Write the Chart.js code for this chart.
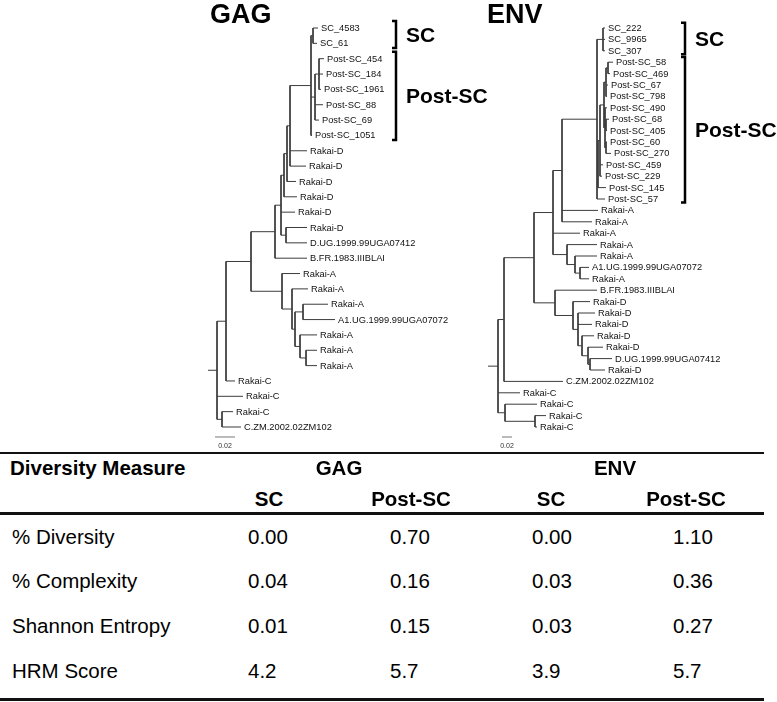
<!DOCTYPE html>
<html>
<head>
<meta charset="utf-8">
<script src="https://cdn.jsdelivr.net/npm/chart.js@4.4.1/dist/chart.umd.min.js"></script>
<style>
body{margin:0;background:#fff;width:777px;height:702px;position:relative;overflow:hidden;font-family:'Liberation Sans',Arial,sans-serif;color:#000}
.tree{position:absolute;top:0;height:460px}
#gagBox{left:195px;width:305px}
#envBox{left:470px;width:307px}
.rule{position:absolute;left:0;width:764px;background:#111}
.cell{position:absolute;font-size:20.5px;line-height:20.5px;white-space:nowrap}
.bold{font-weight:bold}
.mid{transform:translateX(-50%)}
</style>
</head>
<body>
<div class="tree" id="gagBox"><canvas id="gagChart"></canvas></div>
<div class="tree" id="envBox"><canvas id="envChart"></canvas></div>
<div class="rule" style="top:452px;height:2px"></div>
<div class="rule" style="top:512px;height:2.5px"></div>
<div class="rule" style="top:698px;height:2.5px"></div>
<div id="table"></div>
<script>
const FONT = "'Liberation Sans', Arial, sans-serif";

// tree rows: [id, parent, depth from root (subst./site), tip label]
const gagTree = [
    ['root', null, 0.000, ''],
    ['n0', 'root', 0.009, ''],
    ['n1', 'n0', 0.018, ''],
    ['n2', 'n1', 0.043, ''],
    ['n3', 'n2', 0.067, ''],
    ['nd', 'n3', 0.073, ''],
    ['nd2', 'nd', 0.076, ''],
    ['nd3', 'nd2', 0.079, ''],
    ['nd4', 'nd3', 0.082, ''],
    ['nsc', 'nd4', 0.103, ''],
    ['ns', 'nsc', 0.105, ''],
    ['g1', 'ns', 0.110, 'SC_4583'],
    ['g2', 'ns', 0.109, 'SC_61'],
    ['np', 'nsc', 0.107, ''],
    ['np2', 'np', 0.111, ''],
    ['g3', 'np2', 0.116, 'Post-SC_454'],
    ['g4', 'np2', 0.115, 'Post-SC_184'],
    ['g5', 'np2', 0.113, 'Post-SC_1961'],
    ['g6', 'np', 0.115, 'Post-SC_88'],
    ['g7', 'np', 0.111, 'Post-SC_69'],
    ['g8', 'nsc', 0.104, 'Post-SC_1051'],
    ['g9', 'nd4', 0.099, 'Rakai-D'],
    ['g10', 'nd4', 0.098, 'Rakai-D'],
    ['g11', 'nd3', 0.088, 'Rakai-D'],
    ['g12', 'nd2', 0.089, 'Rakai-D'],
    ['g13', 'nd', 0.087, 'Rakai-D'],
    ['ndu', 'nd', 0.078, ''],
    ['g14', 'ndu', 0.099, 'Rakai-D'],
    ['g15', 'ndu', 0.099, 'D.UG.1999.99UGA07412'],
    ['g16', 'n3', 0.099, 'B.FR.1983.IIIBLAI'],
    ['na', 'n2', 0.074, ''],
    ['g17', 'na', 0.092, 'Rakai-A'],
    ['na2', 'na', 0.084, ''],
    ['g18', 'na2', 0.100, 'Rakai-A'],
    ['na3', 'na2', 0.087, ''],
    ['na4', 'na3', 0.095, ''],
    ['g19', 'na4', 0.120, 'Rakai-A'],
    ['g20', 'na4', 0.127, 'A1.UG.1999.99UGA07072'],
    ['na5', 'na3', 0.092, ''],
    ['g21', 'na5', 0.109, 'Rakai-A'],
    ['na6', 'na5', 0.098, ''],
    ['g22', 'na6', 0.109, 'Rakai-A'],
    ['g23', 'na6', 0.109, 'Rakai-A'],
    ['g24', 'n1', 0.027, 'Rakai-C'],
    ['g25', 'n0', 0.035, 'Rakai-C'],
    ['nc', 'n0', 0.014, ''],
    ['g26', 'nc', 0.025, 'Rakai-C'],
    ['g27', 'nc', 0.033, 'C.ZM.2002.02ZM102']
];

const envTree = [
    ['root', null, 0.000, ''],
    ['r', 'root', 0.020, ''],
    ['nm', 'r', 0.032, ''],
    ['nad', 'nm', 0.092, ''],
    ['natop', 'nad', 0.130, ''],
    ['nbig', 'natop', 0.148, ''],
    ['nscc', 'nbig', 0.218, ''],
    ['ns', 'nscc', 0.230, ''],
    ['e1', 'ns', 0.234, 'SC_222'],
    ['e2', 'ns', 0.234, 'SC_9965'],
    ['e3', 'ns', 0.234, 'SC_307'],
    ['np1', 'nscc', 0.220, ''],
    ['np2', 'np1', 0.224, ''],
    ['np3', 'np2', 0.232, ''],
    ['np4', 'np3', 0.236, ''],
    ['np4a', 'np4', 0.240, ''],
    ['e4', 'np4a', 0.250, 'Post-SC_58'],
    ['e5', 'np4a', 0.244, 'Post-SC_469'],
    ['e6', 'np4', 0.240, 'Post-SC_67'],
    ['e7', 'np4', 0.238, 'Post-SC_798'],
    ['np5', 'np3', 0.234, ''],
    ['e8', 'np5', 0.238, 'Post-SC_490'],
    ['np5a', 'np5', 0.236, ''],
    ['e9', 'np5a', 0.242, 'Post-SC_68'],
    ['e10', 'np5a', 0.238, 'Post-SC_405'],
    ['np5b', 'np5', 0.236, ''],
    ['e11', 'np5b', 0.238, 'Post-SC_60'],
    ['e12', 'np5b', 0.246, 'Post-SC_270'],
    ['e13', 'np2', 0.230, 'Post-SC_459'],
    ['e14', 'np2', 0.228, 'Post-SC_229'],
    ['e15', 'np1', 0.236, 'Post-SC_145'],
    ['e16', 'nscc', 0.234, 'Post-SC_57'],
    ['e17', 'nbig', 0.220, 'Rakai-A'],
    ['e18', 'nbig', 0.208, 'Rakai-A'],
    ['e19', 'natop', 0.184, 'Rakai-A'],
    ['nasub', 'natop', 0.158, ''],
    ['e20', 'nasub', 0.218, 'Rakai-A'],
    ['nas2', 'nasub', 0.174, ''],
    ['e21', 'nas2', 0.218, 'Rakai-A'],
    ['nas3', 'nas2', 0.184, ''],
    ['e22', 'nas3', 0.202, 'A1.UG.1999.99UGA07072'],
    ['e23', 'nas3', 0.202, 'Rakai-A'],
    ['nd0', 'nad', 0.134, ''],
    ['e24', 'nd0', 0.218, 'B.FR.1983.IIIBLAI'],
    ['nd1', 'nd0', 0.170, ''],
    ['e25', 'nd1', 0.204, 'Rakai-D'],
    ['nd2', 'nd1', 0.180, ''],
    ['e26', 'nd2', 0.214, 'Rakai-D'],
    ['e27', 'nd2', 0.208, 'Rakai-D'],
    ['nd3', 'nd2', 0.188, ''],
    ['e28', 'nd3', 0.212, 'Rakai-D'],
    ['nd4', 'nd3', 0.200, ''],
    ['e29', 'nd4', 0.230, 'Rakai-D'],
    ['nd5', 'nd4', 0.204, ''],
    ['e30', 'nd5', 0.248, 'D.UG.1999.99UGA07412'],
    ['e31', 'nd5', 0.234, 'Rakai-D'],
    ['e32', 'nm', 0.150, 'C.ZM.2002.02ZM102'],
    ['e33', 'r', 0.064, 'Rakai-C'],
    ['nc', 'r', 0.034, ''],
    ['e34', 'nc', 0.098, 'Rakai-C'],
    ['nc2', 'nc', 0.094, ''],
    ['e35', 'nc2', 0.116, 'Rakai-C'],
    ['e36', 'nc2', 0.098, 'Rakai-C']
];

// brackets: [name, first leaf, last leaf]
const gagGroups = [['SC', 0, 1], ['Post-SC', 2, 7]];
const envGroups = [['SC', 0, 2], ['Post-SC', 3, 15]];
const scaleBarLength = 0.02;

// table
const measures = ['% Diversity', '% Complexity', 'Shannon Entropy', 'HRM Score'];
const decimals = [2, 2, 2, 1];
const gagSC = [0.00, 0.04, 0.01, 4.2];
const gagPostSC = [0.70, 0.16, 0.15, 5.7];
const envSC = [0.00, 0.03, 0.03, 3.9];
const envPostSC = [1.10, 0.36, 0.27, 5.7];

function buildTree(rows){
    const nodes = {};
    const order = [];
    rows.forEach(r => {
        nodes[r[0]] = {id: r[0], parent: r[1], x: r[2], label: r[3], kids: []};
        order.push(nodes[r[0]]);
    });
    order.forEach(n => { if(n.parent) nodes[n.parent].kids.push(n); });
    const leaves = [];
    function place(n){
        if(n.kids.length === 0){ n.y = leaves.length; leaves.push(n); return; }
        n.kids.forEach(place);
        n.y = (n.kids[0].y + n.kids[n.kids.length - 1].y) / 2;
    }
    place(order.find(n => !n.parent));
    const segs = [];
    order.forEach(n => {
        if(n.parent){
            const p = nodes[n.parent];
            segs.push([{x: p.x, y: n.y}, {x: n.x, y: n.y}]);
        }
        if(n.kids.length > 1){
            segs.push([{x: n.x, y: n.kids[0].y}, {x: n.x, y: n.kids[n.kids.length - 1].y}]);
        }
    });
    return {leaves, segs};
}

const treeDecor = {
    id: 'treeDecor',
    afterDatasetsDraw(chart, args, o){
        const ctx = chart.ctx, xs = chart.scales.x, ys = chart.scales.y;
        ctx.save();
        ctx.fillStyle = '#000';
        ctx.textAlign = 'left';
        ctx.textBaseline = 'alphabetic';
        ctx.font = 'bold 27px ' + FONT;
        ctx.fillText(o.title, o.titleX - o.left, 23);

        ctx.font = '9.3px ' + FONT;
        ctx.fillStyle = '#111';
        ctx.textBaseline = 'middle';
        o.leaves.forEach(l => {
            ctx.fillText(l.label, xs.getPixelForValue(l.x) + 3, ys.getPixelForValue(l.y) + 0.5);
        });

        const row = Math.abs(ys.getPixelForValue(1) - ys.getPixelForValue(0));
        const bx = o.bracketX - o.left;
        o.groups.forEach(g => {
            const y1 = ys.getPixelForValue(g[1]) - row * 0.45;
            const y2 = ys.getPixelForValue(g[2]) + row * 0.3;
            ctx.strokeStyle = '#000';
            ctx.lineWidth = 2.5;
            ctx.beginPath();
            ctx.moveTo(bx - 4, y1); ctx.lineTo(bx, y1); ctx.lineTo(bx, y2); ctx.lineTo(bx - 4, y2);
            ctx.stroke();
            ctx.fillStyle = '#000';
            ctx.textBaseline = 'alphabetic';
            ctx.font = 'bold 21px ' + FONT;
            ctx.fillText(g[0], bx + 10, (y1 + y2) / 2 + 7.5);
        });

        const last = o.leaves.length - 1;
        const sy = ys.getPixelForValue(last) + 10;
        const sx1 = xs.getPixelForValue(o.scaleFrom);
        const sx2 = xs.getPixelForValue(o.scaleFrom + scaleBarLength);
        ctx.strokeStyle = '#777';
        ctx.lineWidth = 1;
        ctx.beginPath();
        ctx.moveTo(sx1, sy); ctx.lineTo(sx2, sy);
        ctx.stroke();
        ctx.fillStyle = '#333';
        ctx.font = '7px ' + FONT;
        ctx.textAlign = 'center';
        ctx.textBaseline = 'middle';
        ctx.fillText(scaleBarLength.toFixed(2), (sx1 + sx2) / 2, sy + 9);
        ctx.restore();
    }
};

// panel: page position of canvas, root x, px per unit, first leaf y, row height
function drawTree(canvasId, rows, groups, p){
    const t = buildTree(rows);
    const xmin = -(p.rootPx - p.left) / p.pxPerUnit;
    const xmax = xmin + p.width / p.pxPerUnit;
    const ymin = -p.firstLeafPx / p.rowPx;
    const ymax = ymin + p.height / p.rowPx;
    return new Chart(document.getElementById(canvasId), {
        type: 'scatter',
        data: {
            datasets: t.segs.map(s => ({
                data: s,
                showLine: true,
                borderColor: '#3c3c3c',
                borderWidth: 1,
                pointRadius: 0,
                pointHoverRadius: 0
            }))
        },
        options: {
            responsive: true,
            maintainAspectRatio: false,
            animation: false,
            events: [],
            layout: {padding: 0},
            scales: {
                x: {type: 'linear', min: xmin, max: xmax, display: false},
                y: {type: 'linear', min: ymin, max: ymax, reverse: true, display: false}
            },
            plugins: {
                legend: {display: false},
                tooltip: {enabled: false},
                treeDecor: {
                    title: p.title, titleX: p.titleX, left: p.left,
                    leaves: t.leaves, groups: groups,
                    bracketX: p.bracketX, scaleFrom: p.scaleFrom
                }
            }
        },
        plugins: [treeDecor]
    });
}

drawTree('gagChart', gagTree, gagGroups, {
    title: 'GAG', titleX: 210, left: 195, width: 305, height: 460,
    rootPx: 208, pxPerUnit: 1000, firstLeafPx: 28, rowPx: 15.346,
    bracketX: 396, scaleFrom: 0.007
});
drawTree('envChart', envTree, envGroups, {
    title: 'ENV', titleX: 487, left: 470, width: 307, height: 460,
    rootPx: 488, pxPerUnit: 500, firstLeafPx: 28, rowPx: 11.4,
    bracketX: 685, scaleFrom: 0.028
});

// table
const table = document.getElementById('table');
function addCell(text, x, capMid, center, bold){
    const d = document.createElement('div');
    d.className = 'cell' + (center ? ' mid' : '') + (bold ? ' bold' : '');
    d.style.left = x + 'px';
    d.style.top = (capMid - 10) + 'px';
    d.textContent = text;
    table.appendChild(d);
}
addCell('Diversity Measure', 10, 467.5, false, true);
addCell('GAG', 339, 467.5, true, true);
addCell('ENV', 615, 467.5, true, true);
addCell('SC', 269, 498.5, true, true);
addCell('Post-SC', 411, 498.5, true, true);
addCell('SC', 551, 498.5, true, true);
addCell('Post-SC', 686, 498.5, true, true);
const rowMids = [536.5, 580.5, 625.5, 670.5];
measures.forEach((m, i) => {
    addCell(m, 12, rowMids[i], false, false);
    addCell(gagSC[i].toFixed(decimals[i]), 248, rowMids[i], false, false);
    addCell(gagPostSC[i].toFixed(decimals[i]), 390, rowMids[i], false, false);
    addCell(envSC[i].toFixed(decimals[i]), 532, rowMids[i], false, false);
    addCell(envPostSC[i].toFixed(decimals[i]), 673, rowMids[i], false, false);
});
</script>
</body>
</html>
